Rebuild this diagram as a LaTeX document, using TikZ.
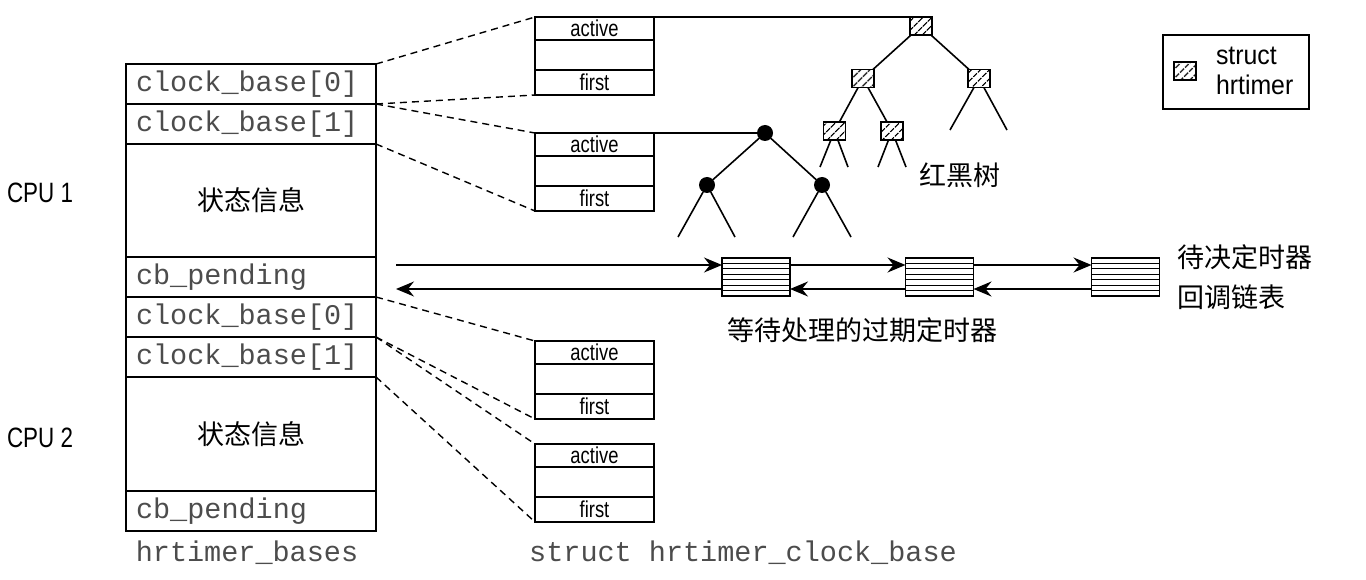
\documentclass[tikz,border=0pt]{standalone}
\usepackage{fontspec}
\setmonofont{Liberation Mono}
\newfontfamily\cjk{Noto Sans CJK SC}
\newfontfamily\nar[FakeStretch=0.8]{Liberation Sans}
\newfontfamily\legf[FakeStretch=0.92]{Liberation Sans}
\usetikzlibrary{arrows.meta,patterns.meta,calc}
\newcommand{\hrcb}[2]{%
  \node[fld, minimum height=23pt] (#1a) at (594.5,#2) {active};
  \node[fld, minimum height=30pt] (#1m) at (#1a.south) {};
  \node[fld, minimum height=25pt] (#1f) at (#1m.south) {first};}
\begin{document}
\begin{tikzpicture}[x=1pt,y=-1pt,
  line width=1.6pt,
  every node/.style={inner sep=0pt, outer sep=0pt},
  trow/.style={draw, minimum width=250pt, text width=230pt, inner xsep=10pt, align=left, anchor=north, font=\fontsize{28.5}{30}\selectfont\ttfamily, text=black!70},
  crow/.style={draw, minimum width=250pt, anchor=north, font=\fontsize{27}{30}\selectfont\cjk},
  fld/.style={draw, minimum width=119pt, anchor=north, font=\fontsize{23}{24}\selectfont\nar},
  hatch/.style={draw, minimum width=22pt, minimum height=18pt, pattern={Lines[angle=45,distance=6.5pt,line width=1.5pt]}},
  dot/.style={circle, fill, minimum size=16pt},
  dashln/.style={dash pattern=on 7pt off 5pt, line width=1.4pt},
  cjkt/.style={font=\fontsize{27}{30}\selectfont\cjk},
  mono/.style={font=\fontsize{28.5}{30}\selectfont\ttfamily, text=black!70},
  lst/.style={draw, minimum width=68pt, minimum height=38pt,
    path picture={\foreach \k in {1,...,6}{\draw[line width=1.1pt] ($(path picture bounding box.north west)!\k/7!(path picture bounding box.south west)$) -- ($(path picture bounding box.north east)!\k/7!(path picture bounding box.south east)$);}}},
  arr/.style={-{Stealth[length=18pt,width=15pt,inset=6pt]}, line width=1.7pt},
]
\useasboundingbox (0,0) rectangle (1366,580);

% CPU table
\node[trow, minimum height=40pt] (a0) at (251,64) {clock\_base[0]};
\node[trow, minimum height=40pt] (a1) at (a0.south) {clock\_base[1]};
\node[crow, minimum height=113pt] (a2) at (a1.south) {状态信息};
\node[trow, minimum height=40pt] (a3) at (a2.south) {cb\_pending};
\node[trow, minimum height=40pt] (b0) at (a3.south) {clock\_base[0]};
\node[trow, minimum height=40pt] (b1) at (b0.south) {clock\_base[1]};
\node[crow, minimum height=114pt] (b2) at (b1.south) {状态信息};
\node[trow, minimum height=40pt] (b3) at (b2.south) {cb\_pending};

\node[font=\fontsize{28}{30}\selectfont\nar] (cpu1) at (40,193) {CPU 1};
\node[font=\fontsize{28}{30}\selectfont\nar] (cpu2) at (40,438) {CPU 2};
\node[mono] (hb) at (247,553) {hrtimer\_bases};
\node[mono] (hcb) at (743,553) {struct hrtimer\_clock\_base};

% clock base boxes
\hrcb{q1}{17}
\hrcb{q2}{133}
\hrcb{q3}{341}
\hrcb{q4}{444}

\draw[dashln] (a0.north east) -- (q1a.north west);
\draw[dashln] (a1.north east) -- (q1f.south west);
\draw[dashln] (a1.north east) -- (q2a.north west);
\draw[dashln] (a2.north east) -- (q2f.south west);
\draw[dashln] (b0.north east) -- (q3a.north west);
\draw[dashln] (b1.north east) -- (q3f.south west);
\draw[dashln] (b1.north east) -- (q4a.north west);
\draw[dashln] (b2.north east) -- (q4f.south west);

% hatched red-black tree
\node[hatch, anchor=north west] (h0) at (910,17) {};
\node[hatch] (h1) at (863,78.5) {};
\node[hatch] (h2) at (979,78.5) {};
\node[hatch] (h3) at (834.5,131) {};
\node[hatch] (h4) at (892,131) {};
\coordinate (t1) at (950,130);
\coordinate (t2) at (1007,130);
\coordinate (t3) at (820,167);
\coordinate (t4) at (848,167);
\coordinate (t5) at (878,167);
\coordinate (t6) at (906,167);
\draw (q1a.north east) -- (h0.north west);
\draw (h0) -- (h1);
\draw (h0) -- (h2);
\draw (h1) -- (h3);
\draw (h1) -- (h4);
\draw (h2) -- (t1);
\draw (h2) -- (t2);
\draw (h3) -- (t3);
\draw (h3) -- (t4);
\draw (h4) -- (t5);
\draw (h4) -- (t6);
\node[cjkt] (rbt) at (960,175) {红黑树};

% black-dot tree
\node[dot] (d0) at (765,133) {};
\node[dot] (d1) at (707,185) {};
\node[dot] (d2) at (822,185) {};
\coordinate (s1) at (678,237);
\coordinate (s2) at (735,237);
\coordinate (s3) at (793,237);
\coordinate (s4) at (851,237);
\draw (q2a.north east) -- (d0);
\draw (d0) -- (d1);
\draw (d0) -- (d2);
\draw (d1) -- (s1);
\draw (d1) -- (s2);
\draw (d2) -- (s3);
\draw (d2) -- (s4);

% legend
\node[draw, minimum width=146pt, minimum height=74pt, anchor=north west] (leg) at (1163,35) {};
\node[hatch] (legh) at (1185,71) {};
\node[font=\fontsize{27}{30}\selectfont\legf, align=left, anchor=west] (legt) at (1216,71) {struct\\hrtimer};

% pending list
\node[lst] (L1) at (756,277) {};
\node[lst] (L2) at (939.5,277) {};
\node[lst] (L3) at (1125.5,277) {};
\coordinate (ls) at (396,265);
\coordinate (le) at (396,289);
\draw[arr] (ls) -- (ls -| L1.west);
\draw[arr] (L1.east |- ls) -- (ls -| L2.west);
\draw[arr] (L2.east |- ls) -- (ls -| L3.west);
\draw[arr] (L3.west |- le) -- (le -| L2.east);
\draw[arr] (L2.west |- le) -- (le -| L1.east);
\draw[arr] (L1.west |- le) -- (le);

\node[cjkt] (exp) at (862,330) {等待处理的过期定时器};
\node[cjkt, anchor=west] (pd1) at (1177,257) {待决定时器};
\node[cjkt, anchor=west] (pd2) at (1177,297) {回调链表};
\end{tikzpicture}
\end{document}
